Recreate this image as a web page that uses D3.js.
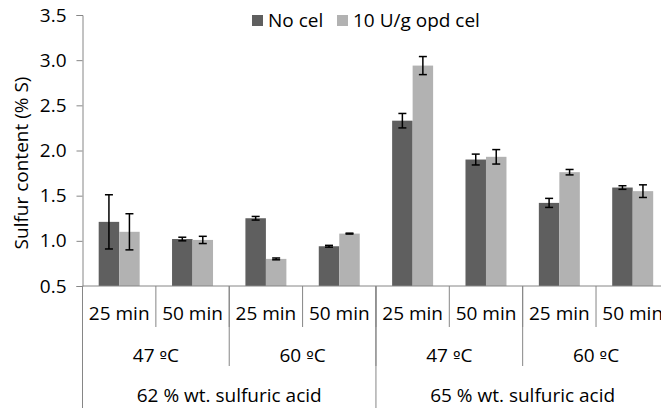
<!DOCTYPE html>
<html>
<head>
<meta charset="utf-8">
<script src="https://cdn.jsdelivr.net/npm/d3@7"></script>
<style>
  body { margin: 0; background: #fff; }
  text { font-family: "Open Sans", Lato, sans-serif; fill: #000; }
</style>
</head>
<body>
<div id="chart"></div>
<script>
// Data
const minutes = ["25 min", "50 min", "25 min", "50 min", "25 min", "50 min", "25 min", "50 min"];
const temps = ["47 ºC", "60 ºC", "47 ºC", "60 ºC"];
const acids = ["62 % wt. sulfuric acid", "65 % wt. sulfuric acid"];
const seriesNames = ["No cel", "10 U/g opd cel"];
const noCel = [1.21, 1.02, 1.25, 0.94, 2.33, 1.90, 1.42, 1.59];
const noCelErr = [0.30, 0.02, 0.02, 0.01, 0.08, 0.06, 0.05, 0.02];
const opdCel = [1.10, 1.01, 0.80, 1.08, 2.94, 1.93, 1.76, 1.55];
const opdCelErr = [0.20, 0.04, 0.01, 0.005, 0.10, 0.08, 0.03, 0.07];
const yTicks = [0.5, 1.0, 1.5, 2.0, 2.5, 3.0, 3.5];

const width = 661, height = 412;
const colors = ["#5f5f5f", "#b2b2b2"];
const axisColor = "#868686";
const fontSize = 19;

const svg = d3.select("#chart")
    .append("svg")
    .attr("width", width)
    .attr("height", height);

const plotLeft = 82.5, plotTop = 15, plotBottom = 286;
const step = 73.36;

// x scale: one band per minute category (chart runs off the right edge)
const x = d3.scaleBand()
    .domain(d3.range(minutes.length))
    .range([plotLeft, plotLeft + step * minutes.length])
    .padding(0);

const xSub = d3.scaleBand()
    .domain([0, 1])
    .range([0, x.bandwidth()])
    .paddingInner(0)
    .paddingOuter(0.79);

const y = d3.scaleLinear()
    .domain([0.5, 3.5])
    .range([plotBottom, plotTop]);

// y axis
const yAxis = svg.append("g")
    .attr("transform", `translate(${plotLeft},0)`)
    .call(d3.axisLeft(y).tickValues(yTicks).tickFormat(d3.format(".1f")).tickSize(6).tickPadding(10));
yAxis.select(".domain").attr("stroke", axisColor);
yAxis.selectAll(".tick line").attr("stroke", axisColor);
yAxis.selectAll(".tick text")
    .attr("font-size", fontSize)
    .attr("font-family", "'Open Sans', Lato, sans-serif");

svg.append("text")
    .attr("transform", `translate(28,163) rotate(-90)`)
    .attr("text-anchor", "middle")
    .attr("font-size", fontSize)
    .text("Sulfur content (% S)");

// bars
const series = [
    { values: noCel, errs: noCelErr },
    { values: opdCel, errs: opdCelErr }
];

series.forEach((s, si) => {
    svg.append("g").selectAll("rect")
        .data(s.values)
        .enter()
        .append("rect")
        .attr("x", (d, i) => x(i) + xSub(si))
        .attr("y", d => y(d))
        .attr("width", xSub.bandwidth())
        .attr("height", d => y(0.5) - y(d))
        .attr("fill", colors[si]);
});

// error bars
series.forEach((s, si) => {
    const g = svg.append("g")
        .attr("stroke", "#000")
        .attr("stroke-width", 1.5);
    s.values.forEach((v, i) => {
        const cx = x(i) + xSub(si) + xSub.bandwidth() / 2;
        const y1 = y(v + s.errs[i]), y2 = y(v - s.errs[i]);
        g.append("line").attr("x1", cx).attr("x2", cx).attr("y1", y1).attr("y2", y2);
        g.append("line").attr("x1", cx - 4).attr("x2", cx + 4).attr("y1", y1).attr("y2", y1);
        g.append("line").attr("x1", cx - 4).attr("x2", cx + 4).attr("y1", y2).attr("y2", y2);
    });
});

// x axis line
svg.append("line")
    .attr("x1", plotLeft).attr("x2", plotLeft + step * minutes.length)
    .attr("y1", plotBottom).attr("y2", plotBottom)
    .attr("stroke", axisColor);

// multi-level category labels and dividers
const levels = [
    { labels: minutes, y2: 327, textY: 320 },
    { labels: temps, y2: 366, textY: 362 },
    { labels: acids, y2: 408, textY: 402 }
];

levels.forEach(lv => {
    const span = minutes.length / lv.labels.length;
    const g = svg.append("g");
    d3.range(lv.labels.length + 1).forEach(k => {
        const xi = plotLeft + k * span * step;
        g.append("line")
            .attr("x1", xi).attr("x2", xi)
            .attr("y1", plotBottom).attr("y2", lv.y2)
            .attr("stroke", axisColor);
    });
    g.selectAll("text")
        .data(lv.labels)
        .enter()
        .append("text")
        .attr("x", (d, k) => plotLeft + (k + 0.5) * span * step)
        .attr("y", lv.textY)
        .attr("text-anchor", "middle")
        .attr("font-size", fontSize)
        .each(function(d) {
            // draw the ordinal sign with a font that underlines it, like the original
            const parts = d.split("º");
            const t = d3.select(this);
            parts.forEach((p, pi) => {
                if (pi > 0) t.append("tspan").attr("font-family", "'DejaVu Sans'").attr("font-size", fontSize - 3).text("º");
                t.append("tspan").text(p);
            });
        });
});

// legend
const legend = svg.append("g");
const legendX = [252, 337];
seriesNames.forEach((name, si) => {
    legend.append("rect")
        .attr("x", legendX[si]).attr("y", 15)
        .attr("width", 11).attr("height", 11)
        .attr("fill", colors[si]);
    legend.append("text")
        .attr("x", legendX[si] + 16).attr("y", 27)
        .attr("font-size", fontSize)
        .text(name);
});
</script>
</body>
</html>
